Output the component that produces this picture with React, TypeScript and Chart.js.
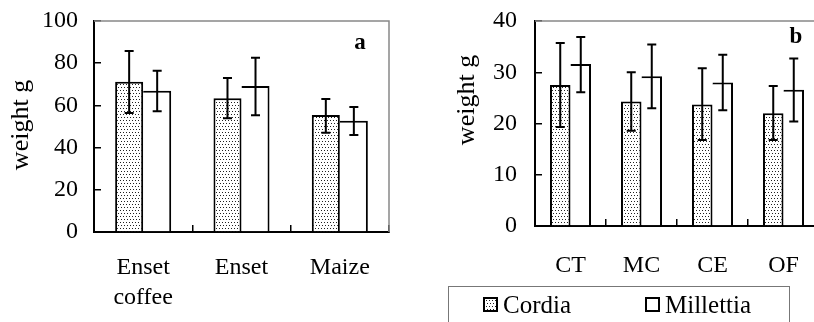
import React, { useEffect, useRef } from 'react';
import { Chart, registerables } from 'chart.js';
Chart.register(...registerables);

const FONT = "'Liberation Serif', 'Times New Roman', Times, serif";

const seriesNames = ['Cordia', 'Millettia'];

// Panel a
const catsA: (string | string[])[] = [['Enset', 'coffee'], 'Enset', 'Maize'];
const cordiaA = [71.2, 63.4, 55.5];
const cordiaALow = [56.4, 53.9, 47.0];
const cordiaAHigh = [85.8, 73.0, 63.0];
const millettiaA = [67.0, 69.2, 52.7];
const millettiaALow = [57.2, 55.3, 46.0];
const millettiaAHigh = [76.4, 82.6, 59.2];
const yMaxA = 100;
const yStepA = 10;
const yLabelEveryA = 20;

// Panel b
const catsB = ['CT', 'MC', 'CE', 'OF'];
const cordiaB = [27.5, 24.3, 23.7, 22.0];
const cordiaBLow = [19.3, 18.6, 16.8, 16.8];
const cordiaBHigh = [35.7, 30.0, 30.8, 27.3];
const millettiaB = [31.6, 29.2, 28.0, 26.6];
const millettiaBLow = [26.1, 23.0, 22.6, 20.4];
const millettiaBHigh = [36.9, 35.4, 33.4, 32.7];
const yMaxB = 40;
const yStepB = 5;
const yLabelEveryB = 10;

const yTitle = 'weight g';

function makeDotTile(): HTMLCanvasElement {
  const c = document.createElement('canvas');
  c.width = 6;
  c.height = 6;
  const g = c.getContext('2d')!;
  g.fillStyle = '#fff';
  g.fillRect(0, 0, 6, 6);
  g.fillStyle = '#222';
  [[0, 0], [3, 0], [1, 3], [4, 3]].forEach(([x, y]) => g.fillRect(x, y, 1, 1));
  return c;
}

const errorBarPlugin = {
  id: 'errorBars',
  afterDatasetsDraw(chart: any) {
    const ctx = chart.ctx;
    const ys = chart.scales.y;
    chart.data.datasets.forEach((ds: any, i: number) => {
      const meta = chart.getDatasetMeta(i);
      meta.data.forEach((bar: any, j: number) => {
        const x = bar.x;
        const yl = ys.getPixelForValue(ds.errLow[j]);
        const yh = ys.getPixelForValue(ds.errHigh[j]);
        ctx.save();
        ctx.strokeStyle = '#000';
        ctx.lineWidth = 2;
        ctx.beginPath();
        ctx.moveTo(x, yl);
        ctx.lineTo(x, yh);
        ctx.moveTo(x - 4.5, yl);
        ctx.lineTo(x + 4.5, yl);
        ctx.moveTo(x - 4.5, yh);
        ctx.lineTo(x + 4.5, yh);
        ctx.stroke();
        ctx.restore();
      });
    });
  },
};

const framePlugin = {
  id: 'frameDeco',
  beforeDatasetsDraw(chart: any) {
    const { ctx, chartArea } = chart;
    ctx.save();
    ctx.strokeStyle = '#888';
    ctx.lineWidth = 1.5;
    ctx.beginPath();
    ctx.moveTo(chartArea.left, chartArea.top);
    ctx.lineTo(chartArea.right, chartArea.top);
    ctx.lineTo(chartArea.right, chartArea.bottom);
    ctx.stroke();
    ctx.restore();
  },
  afterDraw(chart: any, _a: any, opts: any) {
    const { ctx, chartArea } = chart;
    ctx.save();
    ctx.fillStyle = '#000';
    ctx.font = `bold 23px ${FONT}`;
    ctx.textAlign = 'center';
    ctx.textBaseline = 'middle';
    ctx.fillText(opts.letter, chartArea.right - opts.letterDx, chartArea.top + opts.letterDy);
    ctx.save();
    ctx.translate(opts.titleX, opts.titleY);
    ctx.rotate(-Math.PI / 2);
    ctx.font = `26px ${FONT}`;
    ctx.fillText(yTitle, 0, 0);
    ctx.restore();

    if (opts.legend) {
      const L = opts.legend;
      ctx.strokeStyle = '#777';
      ctx.lineWidth = 1;
      ctx.strokeRect(L.x + 0.5, L.y + 0.5, L.w, L.h);
      ctx.font = `25px ${FONT}`;
      ctx.textAlign = 'left';
      ctx.textBaseline = 'middle';
      chart.data.datasets.forEach((ds: any, i: number) => {
        const sx = L.items[i];
        ctx.fillStyle = ds.backgroundColor;
        ctx.fillRect(sx, L.swY, 15, 15);
        ctx.strokeStyle = '#000';
        ctx.lineWidth = 2;
        ctx.strokeRect(sx + 1, L.swY + 1, 13, 13);
        ctx.fillStyle = '#000';
        ctx.fillText(ds.label, sx + 20, L.textY);
      });
    }
    ctx.restore();
  },
};

type PanelProps = {
  left: number;
  width: number;
  labels: any[];
  cordia: number[];
  cordiaLow: number[];
  cordiaHigh: number[];
  millettia: number[];
  millettiaLow: number[];
  millettiaHigh: number[];
  yMax: number;
  yStep: number;
  yLabelEvery: number;
  yAxisWidth: number;
  xAxisHeight: number;
  padRight: number;
  catPct: number;
  letter: string;
  letterDx: number;
  letterDy: number;
  titleX: number;
  titleY: number;
  xTickPad: number;
  yTickPad: number;
  legend?: any;
};

function Panel(p: PanelProps) {
  const ref = useRef<HTMLCanvasElement>(null);
  useEffect(() => {
    const canvas = ref.current!;
    const pattern = canvas.getContext('2d')!.createPattern(makeDotTile(), 'repeat')!;
    const tickFont = { family: FONT, size: 24, lineHeight: 1.25 };
    const chart = new Chart(canvas, {
      type: 'bar',
      data: {
        labels: p.labels,
        datasets: [
          {
            label: seriesNames[0],
            data: p.cordia,
            errLow: p.cordiaLow,
            errHigh: p.cordiaHigh,
            backgroundColor: pattern,
            borderColor: '#000',
            borderWidth: { top: 2, left: 2, right: 2, bottom: 0 },
            borderSkipped: false,
            barPercentage: 1,
            categoryPercentage: p.catPct,
          } as any,
          {
            label: seriesNames[1],
            data: p.millettia,
            errLow: p.millettiaLow,
            errHigh: p.millettiaHigh,
            backgroundColor: '#fff',
            borderColor: '#000',
            borderWidth: { top: 2, left: 0, right: 2, bottom: 0 },
            borderSkipped: false,
            barPercentage: 1,
            categoryPercentage: p.catPct,
          } as any,
        ],
      },
      options: {
        animation: false,
        responsive: false,
        maintainAspectRatio: false,
        layout: { padding: { top: 21, right: p.padRight, left: 0, bottom: 0 } },
        plugins: {
          legend: { display: false },
          tooltip: { enabled: false },
          frameDeco: {
            letter: p.letter,
            letterDx: p.letterDx,
            letterDy: p.letterDy,
            titleX: p.titleX,
            titleY: p.titleY,
            legend: p.legend,
          },
        } as any,
        scales: {
          x: {
            grid: { offset: true, drawOnChartArea: false, drawTicks: true, tickLength: -7, color: '#000', lineWidth: 1.5 },
            border: { color: '#000', width: 2 },
            ticks: { color: '#000', font: tickFont, padding: p.xTickPad, maxRotation: 0, autoSkip: false },
            afterFit: (s: any) => {
              s.height = p.xAxisHeight;
              s.paddingLeft = 0;
              s.paddingRight = 0;
            },
          },
          y: {
            min: 0,
            max: p.yMax,
            grid: { drawOnChartArea: false, drawTicks: true, tickLength: -7, color: '#000', lineWidth: 1.5 },
            border: { color: '#000', width: 2 },
            ticks: {
              stepSize: p.yStep,
              color: '#000',
              font: tickFont,
              padding: p.yTickPad,
              callback: (v: any) => (Number(v) % p.yLabelEvery === 0 ? String(v) : ''),
            },
            afterFit: (s: any) => {
              s.width = p.yAxisWidth;
              s.paddingTop = 0;
              s.paddingBottom = 0;
            },
          },
        },
      } as any,
      plugins: [errorBarPlugin, framePlugin],
    });
    return () => chart.destroy();
  }, []);
  return (
    <canvas
      ref={ref}
      width={p.width}
      height={322}
      style={{ position: 'absolute', left: p.left, top: 0, width: p.width, height: 322, display: 'block' }}
    />
  );
}

export default function App() {
  return (
    <div
      style={{
        position: 'fixed',
        left: 0,
        top: 0,
        width: 814,
        height: 322,
        overflow: 'hidden',
        background: '#fff',
      }}
    >
      <Panel
        left={0}
        width={410}
        labels={catsA}
        cordia={cordiaA}
        cordiaLow={cordiaALow}
        cordiaHigh={cordiaAHigh}
        millettia={millettiaA}
        millettiaLow={millettiaALow}
        millettiaHigh={millettiaAHigh}
        yMax={yMaxA}
        yStep={yStepA}
        yLabelEvery={yLabelEveryA}
        yAxisWidth={94}
        xAxisHeight={90}
        padRight={21}
        catPct={0.57}
        letter="a"
        letterDx={29}
        letterDy={22}
        titleX={21}
        titleY={125}
        xTickPad={28}
        yTickPad={23}
      />
      <Panel
        left={420}
        width={410}
        labels={catsB}
        cordia={cordiaB}
        cordiaLow={cordiaBLow}
        cordiaHigh={cordiaBHigh}
        millettia={millettiaB}
        millettiaLow={millettiaBLow}
        millettiaHigh={millettiaBHigh}
        yMax={yMaxB}
        yStep={yStepB}
        yLabelEvery={yLabelEveryB}
        yAxisWidth={115}
        xAxisHeight={96}
        padRight={11}
        catPct={0.578}
        letter="b"
        letterDx={23}
        letterDy={16}
        titleX={47}
        titleY={100}
        xTickPad={32}
        yTickPad={25}
        legend={{ x: 28, y: 286, w: 341, h: 60, items: [63, 225], swY: 297, textY: 306 }}
      />
    </div>
  );
}
